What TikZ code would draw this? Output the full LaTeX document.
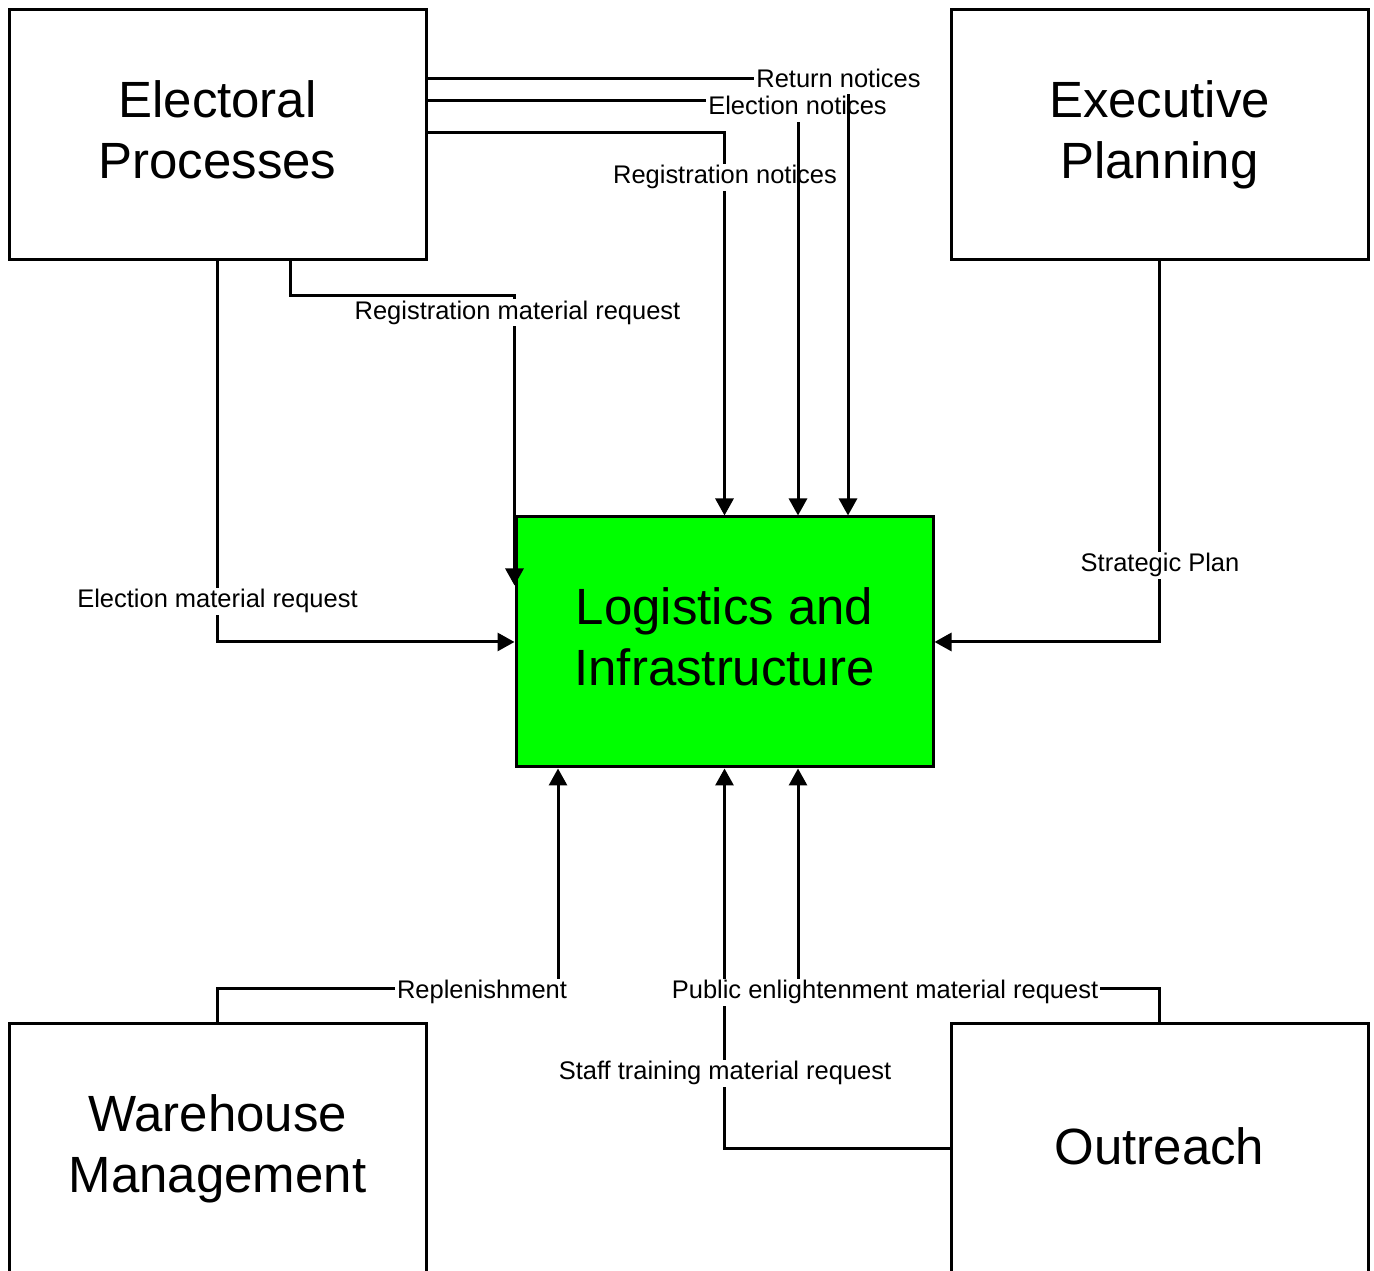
\documentclass[tikz,border=0pt]{standalone}
\usepackage{fontspec}
\setmainfont{Liberation Sans}
\usetikzlibrary{arrows.meta}

\begin{document}
\begin{tikzpicture}[scale=1.0,
  proc/.style={draw=black,line width=0.03cm,minimum width=4.17cm,minimum height=2.5cm,align=center,font=\fontsize{14.5}{17.4}\selectfont,
    execute at begin node=\rule{0pt}{12pt},execute at end node=\rule[-3.2pt]{0pt}{3.2pt}},
  flow/.style={draw=black,line width=0.03cm,-{Triangle[length=0.17cm,width=0.18cm]}},
  lbl/.style={fill=white,inner sep=0.02cm,text height=0.18cm,text depth=0.05cm,font=\fontsize{7.25}{8.7}\selectfont}]
% Define scheme colours
\definecolor{logi}{HTML}{00FF00}

\useasboundingbox (0,0) rectangle (13.74,12.71);
\clip (0,0) rectangle (13.74,12.71);

% Process boxes
\node[proc] (ep) at (2.175,11.36) {Electoral\\Processes};
\node[proc] (exp) at (11.595,11.36) {Executive\\Planning};
\node[proc,fill=logi] (log) at (7.245,6.29) {Logistics and\\Infrastructure};
\node[proc] (wm) at (2.175,1.22) {Warehouse\\Management};
\node[proc] (out) at (11.595,1.22) {Outreach};

% Notices from Electoral Processes (top)
\draw[flow] ([yshift=-1.24cm]ep.north east) -| (log.north);
\node[lbl] (lregn) at (7.25,10.935) {Registration notices};
\draw[flow] ([yshift=-0.92cm]ep.north east) -| ([xshift=0.735cm]log.north);
\node[lbl] (leln) at (7.975,11.625) {Election notices};
\draw[flow] ([yshift=-0.70cm]ep.north east) -| ([xshift=1.235cm]log.north);
\node[lbl] (lretn) at (8.385,11.90) {Return notices};

% Material requests (left and right)
\draw[flow] ([xshift=0.725cm]ep.south) -- ++(0,-0.34) -| ([yshift=-0.70cm]log.north west);
\node[lbl] (lregm) at (5.175,9.58) {Registration material request};
\draw[flow] (ep.south) |- (log.west);
\node[lbl] (lelm) at (2.175,6.695) {Election material request};
\draw[flow] (exp.south) |- (log.east);
\node[lbl] (lsp) at (11.60,7.055) {Strategic Plan};

% Inputs from below
\draw[flow] (wm.north) -- ++(0,0.34) -| ([xshift=-1.665cm]log.south);
\node[lbl] (lrep) at (4.82,2.785) {Replenishment};
\draw[flow] (out.west) -| (log.south);
\node[lbl] (lstm) at (7.25,1.975) {Staff training material request};
\draw[flow] (out.north) -- ++(0,0.34) -| ([xshift=0.735cm]log.south);
\node[lbl] (lpem) at (8.85,2.785) {Public enlightenment material request};
\end{tikzpicture}
\end{document}
